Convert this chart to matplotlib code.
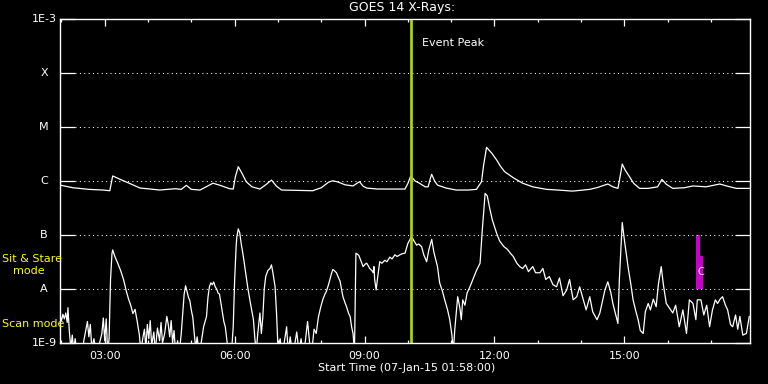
import matplotlib
matplotlib.use("Agg")
import matplotlib.pyplot as plt
import numpy as np

# ---------------- data ----------------
# minutes after start time 07-Jan-15 01:58:00
long_min = [0, 18, 40, 60, 69, 73, 85, 100, 111, 125, 138, 160, 168, 175, 182, 194, 204, 212, 222, 235,
            240, 243, 247, 252, 258, 266, 277, 285, 293, 300, 307, 330, 350, 362, 372, 378, 385, 395, 406, 410,
            415, 420, 425, 440, 457, 478, 482, 486, 492, 498, 506, 510, 513, 515, 519, 523, 535, 549, 565, 577,
            584, 587, 591, 598, 605, 610, 616, 628, 641, 655, 674, 690, 710, 725, 734, 745, 759, 766, 773, 776,
            779, 783, 789, 795, 803, 815, 828, 834, 840, 849, 865, 877, 895, 905, 914, 925, 937, 955]
long_flux = [8.4e-7, 7.5e-7, 7.0e-7, 6.8e-7, 6.6e-7, 1.24e-6, 1.05e-6, 8.6e-7, 7.4e-7, 7.1e-7, 6.8e-7, 7.2e-7,
             7.0e-7, 8.3e-7, 7.0e-7, 6.8e-7, 8.0e-7, 9.1e-7, 8.3e-7, 7.2e-7,
             7.1e-7, 1.2e-6, 1.84e-6, 1.4e-6, 9.7e-7, 7.8e-7, 7.1e-7, 8.5e-7, 1.04e-6, 8.0e-7, 6.8e-7, 6.7e-7,
             6.6e-7, 7.5e-7, 9.5e-7, 1.01e-6, 9.6e-7, 8.5e-7, 8.1e-7, 8.8e-7,
             9.7e-7, 8.0e-7, 7.4e-7, 7.1e-7, 7.1e-7, 7.1e-7, 9.0e-7, 1.24e-6, 1.0e-6, 9.1e-7, 7.8e-7, 7.8e-7,
             1.1e-6, 1.33e-6, 1.0e-6, 8.4e-7, 7.4e-7, 6.8e-7, 6.8e-7, 7.0e-7,
             9.7e-7, 2.0e-6, 4.2e-6, 3.3e-6, 2.45e-6, 1.9e-6, 1.49e-6, 1.15e-6, 9.1e-7, 7.8e-7, 7.0e-7, 6.8e-7,
             6.5e-7, 6.8e-7, 7.0e-7, 7.6e-7, 8.8e-7, 7.8e-7, 7.3e-7, 1.2e-6,
             2.06e-6, 1.6e-6, 1.2e-6, 9.0e-7, 7.3e-7, 7.3e-7, 7.8e-7, 1.07e-6, 8.7e-7, 7.3e-7, 7.5e-7, 8.1e-7,
             7.8e-7, 8.3e-7, 8.8e-7, 8.0e-7, 7.3e-7, 7.3e-7]

short_min = [0, 2, 4, 6, 8, 10, 11, 13, 15, 17, 19, 21, 24, 27, 30, 33, 36, 38, 40, 42, 44, 47, 50, 54, 58,
             60, 62, 64, 66, 68, 70, 72, 73, 76, 80, 84, 88, 92, 95, 98, 101, 104, 107, 110, 112, 115, 117, 119,
             121, 123, 125, 127, 130, 132, 135, 138, 140, 142, 145, 148, 150, 152, 154, 156, 158, 160, 163, 165,
             168, 170, 172, 174, 176, 178, 180, 182, 184, 186, 188, 190, 193, 196, 199, 203, 205, 207, 209, 211,
             213, 215, 217, 219, 221, 223, 225, 227, 229, 231, 233, 238, 240, 242, 244, 245, 247, 249, 251, 254,
             256, 258, 260, 263, 265, 268, 270, 272, 274, 277, 279, 281, 283, 285, 288, 291, 293, 295, 298, 300,
             302, 305, 308, 311, 314, 316, 319, 322, 325, 328, 331, 334, 337, 340, 343, 345, 347, 350, 352, 355,
             358, 361, 364, 367, 369, 372, 374, 376, 378, 380, 383, 386, 388, 390, 392, 395, 397, 400, 402, 404,
             406, 408, 410, 412, 414, 417, 420, 423, 425, 427, 429, 432, 434, 435, 436, 438, 440, 443, 446, 450,
             453, 457, 460, 464, 467, 471, 474, 478, 482, 487, 490, 494, 497, 501, 504, 508, 511, 515, 518, 523,
             526, 530, 533, 537, 540, 543, 545, 547, 551, 554, 556, 558, 561, 564, 568, 572, 577, 582, 585, 589,
             592, 595, 599, 605, 609, 615, 620, 624, 628, 633, 637, 641, 645, 649, 655, 659, 665, 669, 673, 678,
             683, 688, 692, 697, 702, 706, 711, 716, 720, 725, 729, 734, 738, 744, 748, 752, 755, 759, 763, 766,
             770, 773, 775, 779, 782, 787, 791, 794, 798, 801, 804, 808, 811, 815, 818, 822, 826, 829, 833, 836,
             840, 845, 849, 853, 858, 863, 868, 872, 877, 881, 883, 888, 892, 896, 900, 904, 908, 911, 915, 918,
             922, 925, 929, 932, 936, 939, 942, 946, 951, 955]
short_flux = [3.2e-9, 2.6e-9, 3.4e-9, 2.8e-9, 3.6e-9, 2.4e-9, 4.5e-9, 1.6e-9, 8e-10, 1.4e-9, 7e-10, 1.2e-9,
              6e-10, 9e-10, 6e-10, 1.1e-9, 1.8e-9, 2.5e-9, 1.3e-9, 2.2e-9, 8e-10, 1.2e-9, 7e-10, 9e-10, 1.5e-9,
              2.9e-9, 1.1e-9, 2.8e-9, 7e-10, 1.2e-9, 1.5e-8, 4.5e-8, 5.3e-8, 4.0e-8, 3.0e-8, 2.2e-8, 1.5e-8,
              9e-9, 6.5e-9, 5e-9, 3.5e-9, 4.2e-9, 2.5e-9, 1.4e-9, 7e-10, 1.3e-9, 1.8e-9, 8e-10,
              2.2e-9, 1.2e-9, 2.6e-9, 9e-10, 1.6e-9, 7e-10, 1.9e-9, 1.1e-9, 2.4e-9, 1.0e-9, 1.5e-9, 3.1e-9,
              2.2e-9, 1.3e-9, 2.6e-9, 1.0e-9, 1.7e-9, 7e-10, 1.1e-9, 6e-10,
              1.5e-9, 3.5e-9, 8e-9, 1.15e-8, 9e-9, 7e-9, 6e-9, 4e-9, 3e-9, 1.5e-9, 8e-10, 1.3e-9, 6e-10,
              1.1e-9, 2.0e-9, 3.1e-9, 7e-9, 1.1e-8, 1.3e-8, 1.2e-8,
              1.35e-8, 1.1e-8, 1.0e-8, 8.4e-9, 8e-9, 5.4e-9, 3.6e-9, 2.5e-9, 2.0e-9, 1.2e-9, 7e-10, 8e-10,
              2e-9, 1.5e-8, 6e-8, 9.3e-8, 1.3e-7, 1.1e-7, 7e-8, 4e-8,
              2.6e-8, 1.7e-8, 1.1e-8, 6.3e-9, 4.5e-9, 2.7e-9, 1.2e-9, 7e-10, 1.5e-9, 3.6e-9, 1.5e-9, 3e-9,
              1e-8, 1.7e-8, 2.2e-8, 2.4e-8, 2.8e-8, 2.0e-8, 1.1e-8, 3.6e-9,
              8e-10, 1.2e-9, 6e-10, 1.1e-9, 2.0e-9, 7e-10, 1.3e-9, 6e-10, 9e-10, 1.6e-9, 7e-10, 1.2e-9, 6e-10,
              1.1e-9, 2.5e-9, 1.3e-9, 7e-10, 1.0e-9, 1.8e-9, 1.5e-9,
              3e-9, 4.5e-9, 6.3e-9, 8e-9, 9e-9, 1.2e-8, 1.5e-8, 1.9e-8, 2.3e-8, 2.2e-8, 2.0e-8, 1.6e-8, 1.4e-8,
              1.0e-8, 7.2e-9, 5.5e-9, 4.7e-9, 3.5e-9, 3.1e-9, 2.0e-9,
              1.5e-9, 7e-10, 4.6e-8, 4.4e-8, 4.2e-8, 3.3e-8, 2.6e-8, 2.9e-8, 3.0e-8, 2.7e-8, 2.4e-8, 2.2e-8,
              2.0e-8, 2.6e-8, 1.5e-8, 9.6e-9, 1.6e-8, 3.2e-8, 3.0e-8, 3.4e-8,
              3.2e-8, 3.9e-8, 3.6e-8, 4.3e-8, 4.0e-8, 4.3e-8, 4.5e-8, 4.6e-8, 7e-8, 9.3e-8, 8e-8, 6.5e-8, 6.8e-8,
              6.1e-8, 4.3e-8, 3.2e-8, 5.3e-8, 8.3e-8, 4.8e-8, 2.6e-8,
              1.3e-8, 9e-9, 6.3e-9, 4.1e-9, 2.7e-9, 1.4e-9, 7e-10, 1.8e-9, 7.2e-9, 4.5e-9, 2.7e-9, 6.3e-9,
              5e-9, 8.4e-9, 1.1e-8, 1.5e-8, 2.2e-8, 3.0e-8, 1.2e-7, 5.9e-7,
              5.3e-7, 3.3e-7, 1.9e-7, 1.07e-7, 7.8e-8, 6.1e-8, 5.4e-8, 4.6e-8, 4.0e-8, 3.0e-8, 2.6e-8, 2.4e-8,
              2.8e-8, 2.1e-8, 2.6e-8, 2.0e-8, 2.0e-8, 2.4e-8, 1.5e-8, 1.7e-8,
              1.2e-8, 1.1e-8, 1.6e-8, 7.5e-9, 9.6e-9, 1.5e-8, 6.3e-9, 7.2e-9, 1.1e-8, 6.3e-9, 4.1e-9, 7.2e-9,
              3.8e-9, 2.7e-9, 3.6e-9, 6.3e-9, 9.6e-9, 1.36e-8, 8.8e-9, 5.4e-9,
              3.3e-9, 2.3e-9, 1.5e-8, 1.7e-7, 8e-8, 2.6e-8, 1.2e-8, 6.3e-9, 3.8e-9, 2.7e-9, 1.7e-9, 1.5e-9,
              3.8e-9, 5.4e-9, 4.1e-9, 6.5e-9, 4.7e-9, 1.2e-8, 2.6e-8, 1.2e-8,
              5.4e-9, 4.3e-9, 3.6e-9, 5.0e-9, 2.0e-9, 4.1e-9, 1.5e-9, 6.3e-9, 5.4e-9, 2.7e-9, 6.3e-9, 6.3e-9,
              3.3e-9, 5.0e-9, 2.0e-9, 4.1e-9, 6.3e-9, 5.4e-9, 6.6e-9, 7.2e-9,
              5.0e-9, 4.1e-9, 2.2e-9, 2.0e-9, 3.3e-9, 1.8e-9, 3.1e-9, 1.4e-9, 1.5e-9, 3.1e-9]

event_peak_min = 486
# Sit & Stare observation bar (start, end minutes, top flux), bottom at A level
stare_start = [881, 887]
stare_end = [887, 891]
stare_top = [1e-7, 4.1e-8]
stare_bottom = 1e-8
stare_label = "C"

level_flux = [1e-9, 1e-8, 1e-7, 1e-6, 1e-5, 1e-4, 1e-3]
level_labels = ["1E-9", "A", "B", "C", "M", "X", "1E-3"]
major_tick_min = [62, 242, 422, 602, 782]
major_tick_labels = ["03:00", "06:00", "09:00", "12:00", "15:00"]
minor_tick_min = [2, 122, 182, 302, 362, 482, 542, 662, 722, 842, 902]
x_max_min = 956

title = "GOES 14 X-Rays:"
xlabel = "Start Time (07-Jan-15 01:58:00)"

# ---------------- figure ----------------
W, H = 768, 384
fig = plt.figure(figsize=(W / 100, H / 100), dpi=100, facecolor="black")
L, R, T, B = 60, 750, 19, 343
ax = fig.add_axes([L / W, 1 - B / H, (R - L) / W, (B - T) / H], facecolor="black")
ax.set_yscale("log")
ax.set_xlim(0, x_max_min)
ax.set_ylim(1e-9, 1e-3)

for s in ax.spines.values():
    s.set_color("white")
    s.set_linewidth(1.0)

# y ticks: inward long ticks on both sides, labels drawn manually
ax.set_yticks(level_flux)
ax.yaxis.set_minor_locator(matplotlib.ticker.NullLocator())
ax.tick_params(axis="y", which="major", direction="in", length=11, width=0.9, color="white",
               left=True, right=True, labelleft=False, labelright=False)
ylab_tr = matplotlib.transforms.blended_transform_factory(ax.transAxes, ax.transData)
for f, lab in zip(level_flux, level_labels):
    ax.text(-16 / (R - L), f, lab, transform=ylab_tr, color="white", fontsize=8,
            ha="center", va="center", family="DejaVu Sans")

# dotted grid between the tick marks
for f in level_flux[1:-1]:
    ax.axhline(f, xmin=15 / (R - L), xmax=1 - 15 / (R - L), color="white",
               linewidth=0.75, linestyle=(0, (1, 3.2)))

# x ticks
ax.set_xticks(major_tick_min)
ax.set_xticklabels(major_tick_labels)
ax.set_xticks(minor_tick_min, minor=True)
ax.tick_params(axis="x", which="major", direction="in", length=5, width=0.9, color="white",
               top=True, bottom=True, labelcolor="white", labelsize=8, pad=6)
ax.tick_params(axis="x", which="minor", direction="in", length=2.5, width=0.9, color="white",
               top=True, bottom=True)

# data
ax.plot(long_min, long_flux, color="white", linewidth=0.9)
ax.plot(short_min, short_flux, color="white", linewidth=0.9)

# event peak line
ax.axvline(event_peak_min, color="#a8d400", linewidth=2.0)
ax.text((event_peak_min + 15), 10 ** (-3 - 24 / 54), "Event Peak", color="white", fontsize=8,
        ha="left", va="center")

# sit & stare bars
for s0, s1, top in zip(stare_start, stare_end, stare_top):
    ax.fill_between([s0, s1], [stare_bottom, stare_bottom], [top, top], color="#cc00cc", linewidth=0)
ax.text(stare_end[0] + 1, 10 ** (-3 - (272 - 19) / 54), stare_label, color="white", fontsize=7,
        ha="center", va="center")

# texts in figure coordinates
fig.text(402 / W, 1 - 8 / H, title, color="white", fontsize=9, ha="center", va="center")
fig.text(318 / W, 1 - 368 / H, xlabel, color="white", fontsize=8, ha="left", va="center")
fig.text(2 / W, 1 - 259 / H, "Sit & Stare", color="#ffff00", fontsize=8, ha="left", va="center")
fig.text(13 / W, 1 - 271 / H, "mode", color="#ffff00", fontsize=8, ha="left", va="center")
fig.text(2 / W, 1 - 324 / H, "Scan mode", color="#ffff00", fontsize=8, ha="left", va="center")

fig.savefig("out.png", dpi=100, facecolor="black")
